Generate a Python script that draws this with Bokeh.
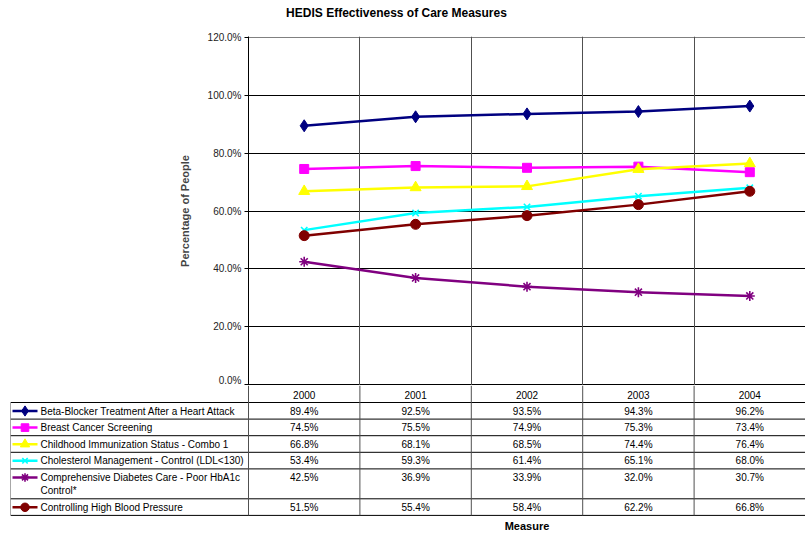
from bokeh.plotting import figure
from bokeh.layouts import column
from bokeh.models import Range1d, FixedTicker, PrintfTickFormatter, Grid, ColumnDataSource
from bokeh.core.properties import value
from bokeh.embed import file_html
from bokeh.resources import INLINE

# ---------------- data ----------------
years = ["2000", "2001", "2002", "2003", "2004"]
series_names = [
    "Beta-Blocker Treatment After a Heart Attack",
    "Breast Cancer Screening",
    "Childhood Immunization Status - Combo 1",
    "Cholesterol Management - Control (LDL<130)",
    "Comprehensive Diabetes Care - Poor HbA1c\nControl*",
    "Controlling High Blood Pressure",
]
beta_blocker = [89.4, 92.5, 93.5, 94.3, 96.2]
breast_cancer = [74.5, 75.5, 74.9, 75.3, 73.4]
childhood_imm = [66.8, 68.1, 68.5, 74.4, 76.4]
cholesterol = [53.4, 59.3, 61.4, 65.1, 68.0]
diabetes_poor = [42.5, 36.9, 33.9, 32.0, 30.7]
blood_pressure = [51.5, 55.4, 58.4, 62.2, 66.8]
series_values = [beta_blocker, breast_cancer, childhood_imm, cholesterol, diabetes_poor, blood_pressure]
y_ticks = [0, 20, 40, 60, 80, 100, 120]

title_text = "HEDIS Effectiveness of Care Measures"
y_label = "Percentage of People"
x_label = "Measure"

# ---------------- styles ----------------
colors = ["#000080", "#FF00FF", "#FFFF00", "#00FFFF", "#800080", "#800000"]
markers = ["diamond", "square", "triangle", "x", "asterisk", "circle"]
msizes = [12, 9, 11, 9, 10, 10]
mlw = [1, 1, 1, 1.6, 1.6, 1]

FONT = "Liberation Sans"
W, H_TITLE, H_TOP, H_BOT = 805, 30, 355, 149
LEFT, TOP = 248, 6
TABLE_LEFT = 10
GRID_V = "#505050"

n = len(years)
xc = [i + 0.5 for i in range(n)]

# ---------------- title strip ----------------
tf = figure(width=W, height=H_TITLE, x_range=Range1d(0, W), y_range=Range1d(H_TITLE, 0),
            output_backend="svg", toolbar_location=None,
            min_border_left=0, min_border_right=0, min_border_top=0, min_border_bottom=0,
            x_axis_location=None, y_axis_location=None, outline_line_color=None, frame_align=False)
tf.grid.visible = False
tf.background_fill_color = "white"
tf.border_fill_color = "white"
tf.text(x=[396], y=[12.5], text=[title_text], text_align="center", text_baseline="middle",
        text_font=value(FONT), text_font_size="12px", text_font_style="bold", text_color="black")

# ---------------- chart ----------------
p = figure(width=W, height=H_TOP, x_range=Range1d(0, n), y_range=Range1d(-0.2, 120.2),
           output_backend="svg", toolbar_location=None,
           min_border_left=LEFT, min_border_right=0, min_border_top=TOP, min_border_bottom=0,
           x_axis_location=None, outline_line_color=None, frame_align=False)
p.background_fill_color = "white"
p.border_fill_color = "white"

ax = p.yaxis[0]
ax.ticker = FixedTicker(ticks=y_ticks)
ax.formatter = PrintfTickFormatter(format="%.1f%%")
ax.major_tick_in = 0
ax.major_tick_out = 4
ax.minor_tick_in = 0
ax.minor_tick_out = 0
ax.major_label_standoff = 3
ax.major_label_text_font = FONT
ax.major_label_text_font_size = "10px"
ax.major_label_text_color = "#222222"
ax.axis_line_color = "black"
ax.major_tick_line_color = "black"
ax.axis_label = y_label
ax.axis_label_text_font = FONT
ax.axis_label_text_font_size = "11px"
ax.axis_label_text_font_style = "bold"
ax.axis_label_standoff = 14

p.ygrid.ticker = FixedTicker(ticks=y_ticks[:-1])
p.ygrid.grid_line_color = "black"
p.ygrid.grid_line_width = 1
p.add_layout(Grid(dimension=1, ticker=FixedTicker(ticks=y_ticks[-1:]), grid_line_color="#808080"))
p.add_layout(Grid(dimension=0, ticker=FixedTicker(ticks=list(range(1, n))), grid_line_color=GRID_V))

for vals, c, m, s, lw in zip(series_values, colors, markers, msizes, mlw):
    src = ColumnDataSource(dict(x=xc, y=vals))
    p.line("x", "y", source=src, line_color=c, line_width=2.5)
    p.scatter("x", "y", source=src, marker=m, size=s, line_color=c, fill_color=c, line_width=lw)

# ---------------- data table ----------------
unit = (W - LEFT) / n
def px2x(px):
    return (px - LEFT) / unit

x0 = px2x(TABLE_LEFT)
t = figure(width=W, height=H_BOT, x_range=Range1d(x0, n), y_range=Range1d(H_BOT, 0),
           output_backend="svg", toolbar_location=None,
           min_border_left=TABLE_LEFT, min_border_right=0, min_border_top=0, min_border_bottom=0,
           x_axis_location=None, y_axis_location=None, outline_line_color=None, frame_align=False)
t.background_fill_color = "white"
t.border_fill_color = "white"
t.grid.visible = False

HEADER_H, ROW_H, LINE_H = 17, 16.6, 13.3
row_tops = []
y = HEADER_H
for name in series_names:
    row_tops.append(y)
    y += ROW_H + LINE_H * (name.count("\n"))
table_bottom = y
bounds = [HEADER_H] + [rt for rt in row_tops[1:]] + [table_bottom]

# horizontal borders
t.segment(x0=[x0] * len(bounds), y0=bounds, x1=[n] * len(bounds), y1=bounds,
          line_color="black", line_width=1)
# vertical borders
t.segment(x0=[x0], y0=[HEADER_H], x1=[x0], y1=[table_bottom], line_color=GRID_V, line_width=1)
t.segment(x0=list(range(n)), y0=[0] * n, x1=list(range(n)), y1=[table_bottom] * n,
          line_color=GRID_V, line_width=1)

txt = dict(text_font=value(FONT), text_font_size="10px", text_color="black", text_baseline="middle")
# header years
t.text(x=xc, y=[HEADER_H / 2 + 0.5] * n, text=years, text_align="center", **txt)

for rt, name, vals, c, m, s, lw in zip(row_tops, series_names, series_values, colors, markers, msizes, mlw):
    cy = rt + 8.5
    t.text(x=xc, y=[cy] * n, text=["%.1f%%" % v for v in vals], text_align="center", **txt)
    lines = name.split("\n")
    t.text(x=[px2x(40)] * len(lines), y=[cy + k * LINE_H for k in range(len(lines))],
           text=lines, text_align="left", **txt)
    t.segment(x0=[px2x(12)], y0=[cy], x1=[px2x(37)], y1=[cy], line_color=c, line_width=2.5)
    t.scatter(x=[px2x(24.5)], y=[cy], marker=m, size=s * 0.85, line_color=c, fill_color=c, line_width=lw)

t.text(x=[n / 2], y=[140.5], text=[x_label], text_align="center", text_baseline="middle",
       text_font=value(FONT), text_font_size="11px", text_font_style="bold", text_color="black")

layout = column(tf, p, t, spacing=0)
open("out.html", "w").write(file_html(layout, INLINE))
